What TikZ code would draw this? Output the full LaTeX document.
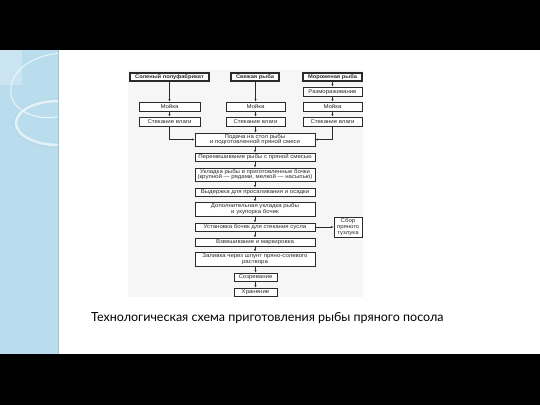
\documentclass[tikz,border=0pt]{standalone}
\usepackage{fontspec}
\setmainfont{Liberation Sans}
\newfontfamily\capfont{Lato}
\newfontfamily\boxfont[FakeStretch=1.1]{Liberation Sans}
\usetikzlibrary{arrows.meta}
\definecolor{stripblue}{HTML}{B9DDED}
\definecolor{diagbg}{HTML}{F6F6F6}
\definecolor{ink}{HTML}{2A2A2A}
\tikzset{
  box/.style={draw=ink, line width=0.75pt, fill=white, inner sep=0pt, align=center,
    font=\boxfont\fontsize{5.5}{5.8}\selectfont, text=ink},
  oneline/.style={box, text height=4pt, text depth=1pt},
  topbox/.style={oneline, line width=1.1pt, font=\boxfont\bfseries\fontsize{5.2}{5.8}\selectfont},
  conn/.style={draw=ink, line width=0.65pt, -{Latex[length=2.6pt,width=2.2pt]}},
}
\begin{document}
\begin{tikzpicture}[x=1pt,y=-1pt]
\useasboundingbox (0,0) rectangle (540,405);
\fill[black] (0,0) rectangle (540,405);
\fill[white] (0,50) rectangle (540,354);
% left decorative strip
\fill[stripblue] (0,50) rectangle (59,354);
\begin{scope}
\clip (0,50) rectangle (59,354);
\fill[white, opacity=0.25] (0,50) rectangle (22,85);
\draw[white, opacity=0.7, line width=1pt] (60,53) .. controls (30,56) and (8,72) .. (11,95) .. controls (14,112) and (40,122) .. (60,116);
\draw[white, opacity=0.6, line width=2.5pt] (58,123) ellipse (42 and 22);
\draw[stripblue!80!gray, opacity=0.5, line width=0.6pt] (58,123) ellipse (44.5 and 24.5);
\end{scope}
\draw[stripblue!70!gray, line width=0.8pt] (58.6,50) -- (58.6,354);
% diagram background
\fill[diagbg] (128,70) rectangle (363,297);
% nodes
\node[topbox, minimum width=79pt, minimum height=8pt] (t1) at (169.5,77) {Соленый полуфабрикат};
\node[topbox, minimum width=48pt, minimum height=8pt] (t2) at (255,77) {Свежая рыба};
\node[topbox, minimum width=59pt, minimum height=8pt] (t3) at (332.5,77) {Мороженая рыба};
\node[oneline, minimum width=59pt, minimum height=9pt] (th) at (332.5,91.5) {Размораживание};
\node[oneline, minimum width=61pt, minimum height=9pt] (w1) at (169.5,106.5) {Мойка};
\node[oneline, minimum width=59pt, minimum height=9pt] (w2) at (255.5,106.5) {Мойка};
\node[oneline, minimum width=59pt, minimum height=9pt] (w3) at (332.5,106.5) {Мойка};
\node[oneline, minimum width=61pt, minimum height=9pt] (d1) at (169.5,121.5) {Стекание влаги};
\node[oneline, minimum width=59pt, minimum height=9pt] (d2) at (255.5,121.5) {Стекание влаги};
\node[oneline, minimum width=59pt, minimum height=9pt] (d3) at (332.5,121.5) {Стекание влаги};
\node[box, minimum width=120pt, minimum height=13pt] (feed) at (255,139.5) {Подача на стол рыбы\\и подготовленной пряной смеси};
\node[oneline, minimum width=120pt, minimum height=8pt] (mix) at (255,157) {Перемешивание рыбы с пряной смесью};
\node[box, minimum width=120pt, minimum height=13pt] (lay) at (255,174.5) {Укладка рыбы в приготовленные бочки\\(крупной — рядами, мелкой — насыпью)};
\node[oneline, minimum width=120pt, minimum height=8pt] (hold) at (255,192) {Выдержка для просаливания и осадки};
\node[box, minimum width=120pt, minimum height=14pt] (add) at (255,209) {Дополнительная укладка рыбы\\и укупорка бочек};
\node[oneline, minimum width=120pt, minimum height=8pt] (set) at (255,227) {Установка бочек для стекания сусла};
\node[box, minimum width=28pt, minimum height=20pt] (col) at (348,227) {Сбор\\пряного\\тузлука};
\node[oneline, minimum width=120pt, minimum height=8pt] (wgh) at (255,242) {Взвешивание и маркировка};
\node[box, minimum width=120pt, minimum height=14pt] (fill) at (255,259) {Заливка через шпунт пряно-солевого\\раствора};
\node[oneline, minimum width=43pt, minimum height=8pt] (rip) at (255.5,277) {Созревание};
\node[oneline, minimum width=43pt, minimum height=8pt] (sto) at (255.5,292) {Хранение};
% connectors
\draw[conn] (t1) -- (w1);
\draw[conn] (w1) -- (d1);
\draw[conn] (t2.south -| w2.north) -- (w2);
\draw[conn] (w2) -- (d2);
\draw[conn] (d2.south) -- (d2.south |- feed.north);
\draw[conn] (t3) -- (th);
\draw[conn] (th) -- (w3);
\draw[conn] (w3) -- (d3);
\draw[conn] (d1.south) |- (feed.west);
\draw[conn] (d3.south) |- (feed.east);
\draw[conn] (feed) -- (mix);
\draw[conn] (mix) -- (lay);
\draw[conn] (lay) -- (hold);
\draw[conn] (hold) -- (add);
\draw[conn] (add) -- (set);
\draw[conn] (set) -- (col);
\draw[conn] (set) -- (wgh);
\draw[conn] (wgh) -- (fill);
\draw[conn] (fill.south -| rip.north) -- (rip);
\draw[conn] (rip) -- (sto);
% caption
\node[font=\capfont\fontsize{12.5}{15}\selectfont, text=black, anchor=west, inner sep=0pt] (cap) at (91,318) {Технологическая схема приготовления рыбы пряного посола};
\end{tikzpicture}
\end{document}
